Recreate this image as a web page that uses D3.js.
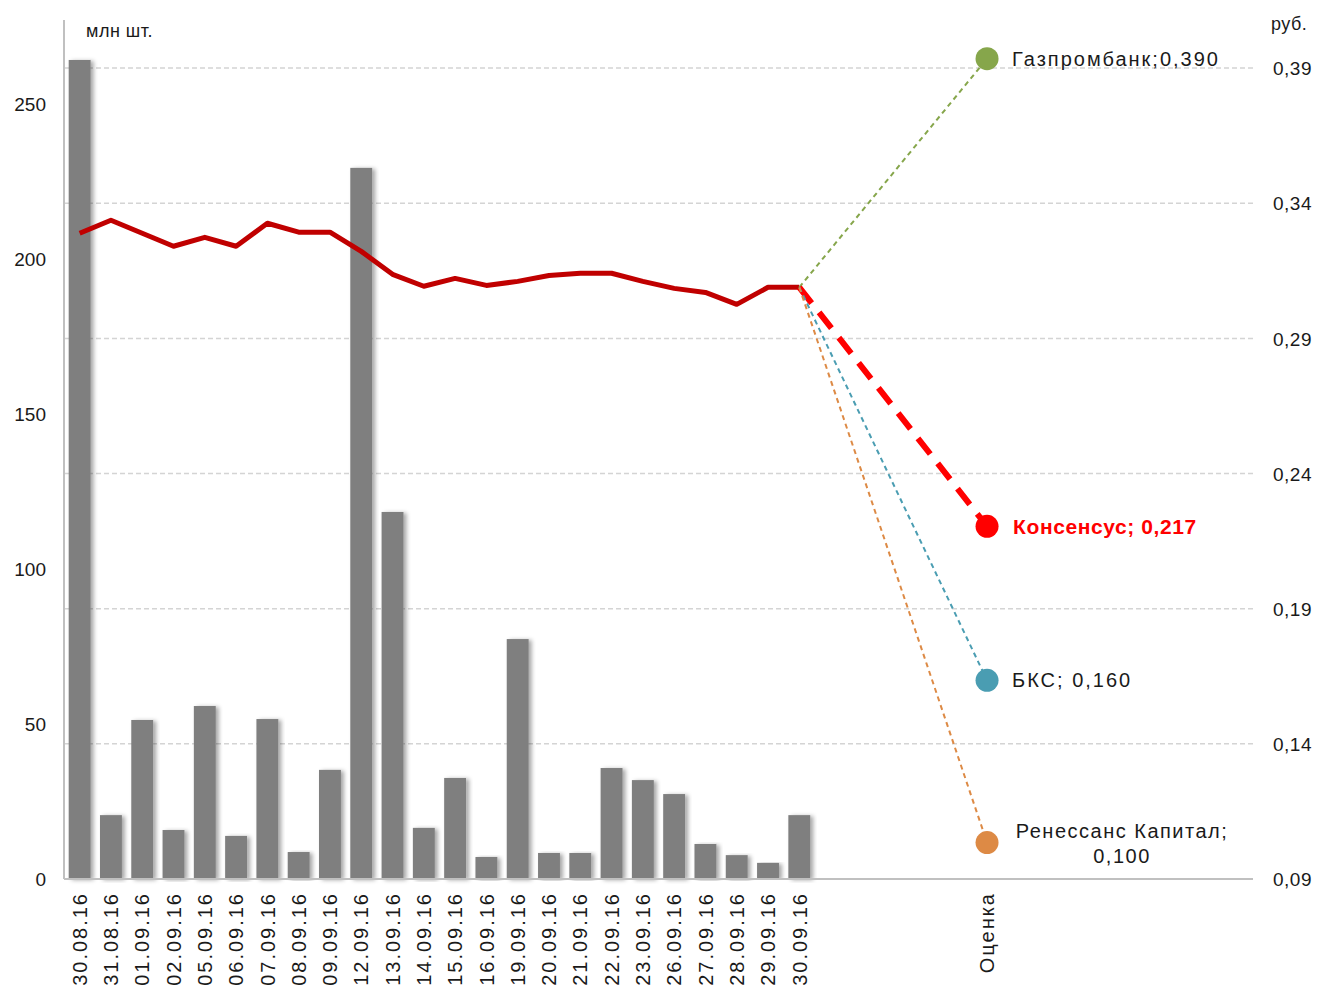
<!DOCTYPE html>
<html>
<head>
<meta charset="utf-8">
<script src="https://cdn.jsdelivr.net/npm/d3@7"></script>
<style>
  body { margin: 0; background: #fff; }
  svg text { font-family: "Liberation Sans", Arial, sans-serif; fill: #1a1a1a; }
</style>
</head>
<body>
<div id="chart"></div>
<script>
// trading days
var dates = ["30.08.16","31.08.16","01.09.16","02.09.16","05.09.16","06.09.16","07.09.16","08.09.16",
  "09.09.16","12.09.16","13.09.16","14.09.16","15.09.16","16.09.16","19.09.16","20.09.16",
  "21.09.16","22.09.16","23.09.16","26.09.16","27.09.16","28.09.16","29.09.16","30.09.16"];
// volume, mln shares (left axis)
var volumes = [264.2, 20.6, 51.3, 15.8, 55.8, 13.9, 51.6, 8.7, 35.2, 229.4, 118.4, 16.5,
  32.6, 7.1, 77.4, 8.4, 8.4, 35.8, 31.9, 27.4, 11.3, 7.7, 5.2, 20.6];
// close price, rub (right axis)
var prices = [0.3254, 0.3302, 0.3254, 0.3206, 0.3239, 0.3206, 0.3291, 0.3258, 0.3258, 0.3187,
  0.3102, 0.3058, 0.3087, 0.3061, 0.3076, 0.3098, 0.3106, 0.3106, 0.3076, 0.3050,
  0.3035, 0.2991, 0.3054, 0.3054];
// forecasts
var estimateLabel = "Оценка";
var brokers = ["Газпромбанк", "Консенсус", "БКС", "Ренессанс Капитал"];
var separators = [";", "; ", "; ", ";"];
var targets = [0.390, 0.217, 0.160, 0.100];
var brokerColors = ["#86a64b", "#ff0000", "#4a9db2", "#dd8a45"];
// axis ticks
var volumeTicks = [0, 50, 100, 150, 200, 250];
var priceTicks = [0.0865, 0.1365, 0.1865, 0.2365, 0.2865, 0.3365, 0.3865];

var emptyBefore = 5, emptyAfter = 8;
var slotLabels = dates.concat(d3.range(emptyBefore).map(function(){ return ""; }))
  .concat([estimateLabel])
  .concat(d3.range(emptyAfter).map(function(){ return ""; }));
var estimateIndex = dates.length + emptyBefore;

var width = 1317, height = 985;
var plotLeft = 64, plotRight = 1253, plotTop = 20, plotBottom = 879;

var ru = d3.formatLocale({decimal: ",", thousands: " ", grouping: [3], currency: ["", " руб."]});
var fmt2 = ru.format(".2f"), fmt3 = ru.format(".3f");

var svg = d3.select("#chart").append("svg")
  .attr("width", width).attr("height", height);

var defs = svg.append("defs");
var shadow = defs.append("filter").attr("id", "shadow")
  .attr("x", "-30%").attr("y", "-5%").attr("width", "160%").attr("height", "110%");
shadow.append("feDropShadow")
  .attr("dx", 3).attr("dy", 1).attr("stdDeviation", 2)
  .attr("flood-color", "#000").attr("flood-opacity", 0.35);

var x = d3.scaleBand()
  .domain(d3.range(slotLabels.length))
  .range([plotLeft, plotRight])
  .paddingInner(0.3)
  .paddingOuter(0.15);
function cx(i) { return x(i) + x.bandwidth() / 2; }

var yL = d3.scaleLinear().domain([0, (plotBottom - plotTop) / 3.1]).range([plotBottom, plotTop]);
var yR = d3.scaleLinear().domain([0.0865, 0.0865 + (plotBottom - plotTop) / 2703]).range([plotBottom, plotTop]);

// gridlines from the price axis
svg.append("g")
  .selectAll("line")
  .data(priceTicks.slice(1))
  .enter().append("line")
  .attr("x1", plotLeft).attr("x2", plotRight)
  .attr("y1", function(d){ return yR(d); })
  .attr("y2", function(d){ return yR(d); })
  .style("stroke", "#d4d4d4")
  .style("stroke-width", 1.5)
  .style("stroke-dasharray", "5,3");

// bars
svg.append("g")
  .selectAll("rect")
  .data(volumes)
  .enter().append("rect")
  .attr("x", function(d, i){ return x(i); })
  .attr("y", function(d){ return yL(d); })
  .attr("width", x.bandwidth())
  .attr("height", function(d){ return yL(0) - yL(d); })
  .attr("filter", "url(#shadow)")
  .style("fill", "#7f7f7f");

// axes lines
svg.append("line")
  .attr("x1", plotLeft).attr("x2", plotLeft).attr("y1", plotTop).attr("y2", plotBottom)
  .style("stroke", "#c0c0c0").style("stroke-width", 2);
svg.append("line")
  .attr("x1", plotLeft).attr("x2", plotRight).attr("y1", plotBottom).attr("y2", plotBottom)
  .style("stroke", "#c0c0c0").style("stroke-width", 2);

// left axis
var axL = svg.append("g")
  .attr("transform", "translate(" + (plotLeft - 18) + ",0)")
  .call(d3.axisLeft(yL).tickValues(volumeTicks).tickSize(0).tickPadding(0));
axL.select(".domain").remove();
axL.selectAll("text").style("font-size", "19px").attr("dy", "0.35em");

// right axis
var axR = svg.append("g")
  .attr("transform", "translate(" + (plotRight + 20) + ",0)")
  .call(d3.axisRight(yR).tickValues(priceTicks).tickSize(0).tickPadding(0).tickFormat(fmt2));
axR.select(".domain").remove();
axR.selectAll("text").style("font-size", "19px").style("letter-spacing", "0.5px").attr("dy", "0.35em");

// bottom axis
var axB = svg.append("g")
  .attr("transform", "translate(0," + plotBottom + ")")
  .call(d3.axisBottom(x).tickSize(0).tickFormat(function(i){ return slotLabels[i]; }));
axB.select(".domain").remove();
axB.selectAll("text")
  .style("font-size", "20px")
  .style("letter-spacing", "2px")
  .style("text-anchor", "end")
  .attr("transform", "rotate(-90)")
  .attr("x", -13)
  .attr("y", 0)
  .attr("dy", "0.36em");

// unit titles
svg.append("text").attr("x", 86).attr("y", 37)
  .style("font-size", "18px").style("letter-spacing", "0.5px").text("млн шт.");
svg.append("text").attr("x", 1271).attr("y", 30)
  .style("font-size", "18px").style("letter-spacing", "0.5px").text("руб.");

// price line
var line = d3.line()
  .x(function(d, i){ return cx(i); })
  .y(function(d){ return yR(d); });
svg.append("path")
  .datum(prices)
  .attr("d", line)
  .style("fill", "none")
  .style("stroke", "#c00000")
  .style("stroke-width", 5)
  .style("stroke-linejoin", "round");

// forecast connectors
var last = prices.length - 1;
var fx = cx(estimateIndex);
svg.append("g")
  .selectAll("line")
  .data(targets)
  .enter().append("line")
  .attr("x1", cx(last)).attr("y1", yR(prices[last]))
  .attr("x2", fx).attr("y2", function(d){ return yR(d); })
  .style("stroke", function(d, i){ return brokerColors[i]; })
  .style("stroke-width", function(d, i){ return brokers[i] === "Консенсус" ? 6 : 2; })
  .style("stroke-dasharray", function(d, i){ return brokers[i] === "Консенсус" ? "20,12" : "5,4"; });

svg.append("g")
  .selectAll("circle")
  .data(targets)
  .enter().append("circle")
  .attr("cx", fx)
  .attr("cy", function(d){ return yR(d); })
  .attr("r", 11.5)
  .style("fill", function(d, i){ return brokerColors[i]; });

// forecast labels
var labels = svg.append("g");
targets.forEach(function(d, i){
  var name = brokers[i];
  if (name === "Ренессанс Капитал") {
    var t = labels.append("text")
      .attr("x", fx + 135).attr("y", yR(d) - 5)
      .style("font-size", "20px").style("letter-spacing", "1.5px")
      .style("text-anchor", "middle");
    t.append("tspan").attr("x", fx + 135).text(name + separators[i]);
    t.append("tspan").attr("x", fx + 135).attr("dy", "1.25em").text(fmt3(d));
  } else if (name === "Консенсус") {
    labels.append("text")
      .attr("x", fx + 26).attr("y", yR(d)).attr("dy", "0.35em")
      .style("font-size", "21px").style("font-weight", "bold")
      .style("letter-spacing", "0.6px")
      .style("fill", "#ff0000")
      .text(name + separators[i] + fmt3(d));
  } else {
    labels.append("text")
      .attr("x", fx + 25).attr("y", yR(d)).attr("dy", "0.35em")
      .style("font-size", "20px").style("letter-spacing", "2px")
      .text(name + separators[i] + fmt3(d));
  }
});
</script>
</body>
</html>
